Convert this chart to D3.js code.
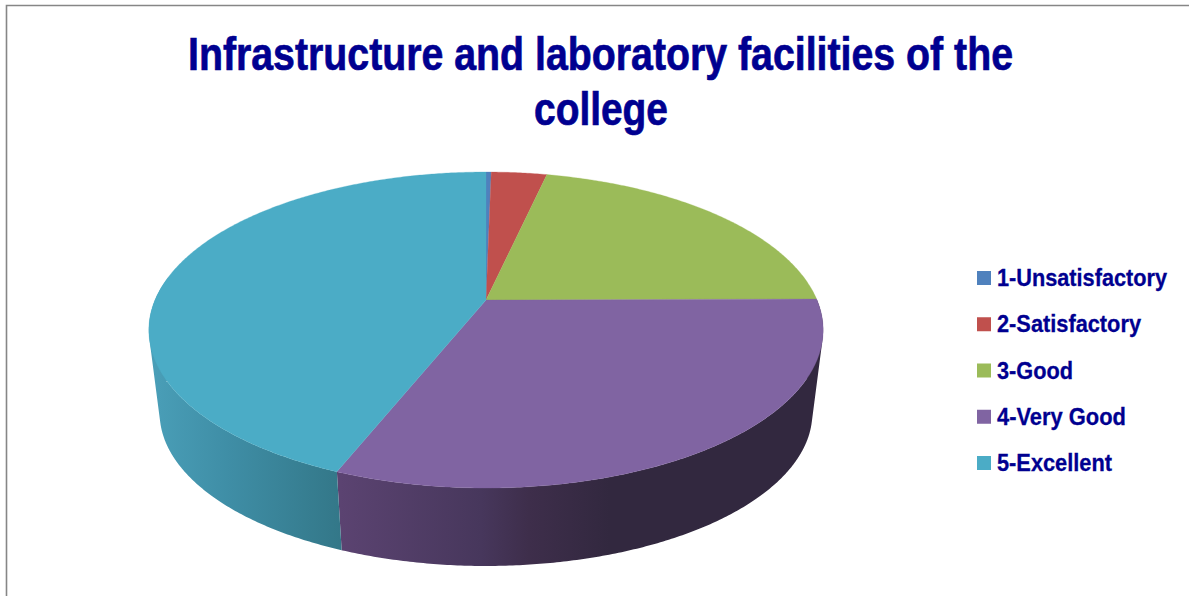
<!DOCTYPE html>
<html><head><meta charset="utf-8">
<script src="https://cdn.jsdelivr.net/npm/d3@7"></script>
<style>html,body{margin:0;padding:0;background:#fff}svg{display:block}text{font-family:"Liberation Sans",Arial,sans-serif;font-weight:bold}</style>
</head><body><svg id="c" width="1189" height="596"></svg>
<script>
const titleLines = ["Infrastructure and laboratory facilities of the", "college"];
const categories = ["1-Unsatisfactory", "2-Satisfactory", "3-Good", "4-Very Good", "5-Excellent"];
const shares = [0.3, 3.2, 21.4, 31.15, 43.95];
const colors = ["#4f81bd", "#c0504d", "#9bbb59", "#8064a2", "#4bacc6"];

const svg = d3.select("#c");
const ink = "#000090";

svg.append("path").attr("d", "M6.5,596V5.5H1189").attr("fill", "none").attr("stroke", "#868686").attr("stroke-width", 1.6);

// Perspective view of the disc: level 0 is the top rim, level 1 the lower rim
const p = 0.19, R = 331, K = 152.3, cx = 486, apexY = 300;
function project(theta, level) {
  const u = Math.sin(theta), v = -Math.cos(theta), w = 1 - p * v;
  const x = R * u / w, y = apexY + K * v / w;
  const s = 1 - 0.032 * level;
  return [cx + x * s, y + level * (413 - 330) + (y - 330) * (s - 1)];
}

const pie = d3.pie().sort(null).value(d => d);
const arcs = pie(shares);
const step = Math.PI / 360;
const line = d3.line();
function rim(a0, a1, level) {
  const pts = d3.range(a0, a1, step).map(t => project(t, level));
  pts.push(project(a1, level));
  return pts;
}

// Side wall: each visible slice has one wall, shaded left to right.
// The wall is a single path of consistently wound quads, so the fold at the silhouette stays filled.
const defs = svg.append("defs");
const wallStops = [
  null, null, null,
  [[0, "#5b4371"], [0.47, "#47375c"], [0.63, "#3e2e4b"], [0.9, "#32283f"], [1, "#32283f"]],
  [[0, "#4a9fb8"], [0.4, "#3f8ea6"], [1, "#337788"]]
];
const wallX = [null, null, null, [340, 640], [150, 342]];
const sideLayer = svg.append("g");
arcs.forEach((a, i) => {
  if (!wallStops[i]) return;
  const g = defs.append("linearGradient").attr("id", "wall" + i).attr("gradientUnits", "userSpaceOnUse")
    .attr("x1", wallX[i][0]).attr("x2", wallX[i][1]).attr("y1", 0).attr("y2", 0);
  wallStops[i].forEach(s => g.append("stop").attr("offset", s[0]).attr("stop-color", s[1]));
  const a0 = Math.max(a.startAngle, Math.PI * 0.45), a1 = Math.min(a.endAngle, Math.PI * 1.55);
  const upper = rim(a0, a1, 0), lower = rim(a0, a1, 1);
  const quads = d3.range(upper.length - 1).map(k => {
    const q = [upper[k], upper[k + 1], lower[k + 1], lower[k]];
    if (d3.polygonArea(q) < 0) q.reverse();
    return line(q) + "Z";
  });
  sideLayer.append("path").attr("d", quads.join("")).attr("fill", "url(#wall" + i + ")").attr("fill-rule", "nonzero");
});

// Top face
const topLayer = svg.append("g");
arcs.forEach((a, i) => {
  const pts = [[cx, apexY]].concat(rim(a.startAngle, a.endAngle, 0));
  topLayer.append("path").attr("d", line(pts) + "Z").attr("fill", colors[i]).attr("stroke", colors[i]).attr("stroke-width", 0.3);
});

// Title, horizontally condensed to the reference's measure
const titleW = [825, 134], titleX = [188, 534], titleY = [70, 125];
titleLines.forEach((s, i) => {
  svg.append("text").text(s).attr("x", titleX[i]).attr("y", titleY[i])
    .attr("font-size", 47).attr("fill", ink).attr("stroke", ink).attr("stroke-width", 0.7)
    .attr("textLength", titleW[i]).attr("lengthAdjust", "spacingAndGlyphs");
});

// Legend
const legendY = d3.scalePoint().domain(categories).range([278, 463]);
const legendW = [170, 144, 76, 129, 115];
categories.forEach((c, i) => {
  const y = legendY(c);
  svg.append("rect").attr("x", 977).attr("y", y - 7).attr("width", 14).attr("height", 14).attr("fill", colors[i]);
  svg.append("text").text(c).attr("x", 997).attr("y", y + 8)
    .attr("font-size", 24.5).attr("fill", ink).attr("stroke", ink).attr("stroke-width", 0.3)
    .attr("textLength", legendW[i]).attr("lengthAdjust", "spacingAndGlyphs");
});
</script></body></html>
